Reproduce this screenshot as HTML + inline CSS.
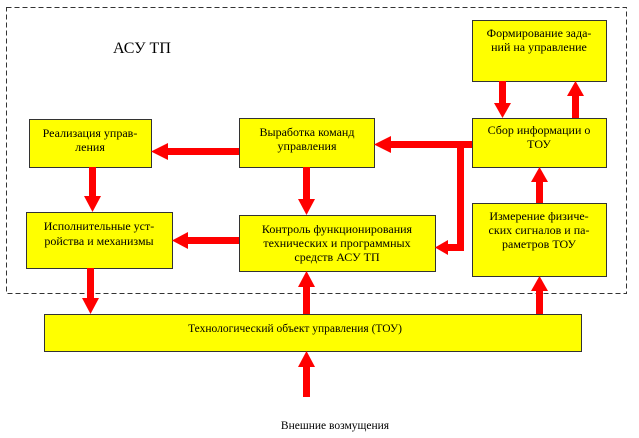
<!DOCTYPE html>
<html><head><meta charset="utf-8"><style>
body{margin:0;background:#fff}
svg{display:block}
text{font-family:"Liberation Serif",serif;font-size:12px;fill:#000}
.b{fill:#ffff00;stroke:#333;stroke-width:1}
.r{fill:#ff0000}
</style></head><body>
<svg width="639" height="438" viewBox="0 0 639 438">
<rect x="6.5" y="7.5" width="620" height="286" fill="none" stroke="#333" stroke-dasharray="5,3"/>
<text x="113" y="53" style="font-size:16px">АСУ ТП</text>
<rect class="b" x="29.5" y="119.5" width="122" height="48"/>
<rect class="b" x="26.5" y="212.5" width="146" height="56"/>
<rect class="b" x="239.5" y="118.5" width="135" height="49"/>
<rect class="b" x="239.5" y="215.5" width="196" height="56"/>
<rect class="b" x="472.5" y="20.5" width="134" height="61"/>
<rect class="b" x="472.5" y="118.5" width="134" height="49"/>
<rect class="b" x="472.5" y="203.5" width="134" height="73"/>
<rect class="b" x="44.5" y="314.5" width="537" height="37"/>
<g text-anchor="middle">
<text x="90" y="137">Реализация управ-</text><text x="90" y="151">ления</text>
<text x="99" y="230">Исполнительные уст-</text><text x="99" y="245">ройства и механизмы</text>
<text x="307" y="136">Выработка команд</text><text x="307" y="150">управления</text>
<text x="337" y="233">Контроль функционирования</text><text x="337" y="247">технических и программных</text><text x="337" y="261">средств АСУ ТП</text>
<text x="539" y="37">Формирование зада-</text><text x="539" y="51">ний на управление</text>
<text x="539" y="134">Сбор информации о</text><text x="539" y="148">ТОУ</text>
<text x="539" y="220">Измерение физиче-</text><text x="539" y="234">ских сигналов и па-</text><text x="539" y="248">раметров ТОУ</text>
<text x="295" y="332" style="font-size:11.5px">Технологический объект управления (ТОУ)</text>
<text x="335" y="429" style="font-size:11.5px">Внешние возмущения</text>
</g>
<g class="r">
<rect x="166" y="148" width="73" height="7"/><polygon points="151,151.5 168,143 168,160"/>
<rect x="89" y="167" width="7" height="30"/><polygon points="92.5,212 84,196 101,196"/>
<rect x="303" y="167" width="7" height="34"/><polygon points="306.5,215 298,199 315,199"/>
<rect x="186" y="237" width="53" height="7"/><polygon points="172,240.5 188,232 188,249"/>
<rect x="388" y="141" width="84" height="7"/><polygon points="374,144.5 391,136 391,153"/>
<rect x="457" y="144" width="7" height="107"/><rect x="446" y="244" width="18" height="7"/><polygon points="435,247.5 448,240 448,255"/>
<rect x="499" y="81" width="7" height="24"/><polygon points="502.5,118 494,103 511,103"/>
<rect x="572" y="94" width="7" height="24"/><polygon points="575.5,81 567,96 584,96"/>
<rect x="536" y="180" width="7" height="23"/><polygon points="539.5,167 531,182 548,182"/>
<rect x="536" y="289" width="7" height="25"/><polygon points="539.5,276 531,291 548,291"/>
<rect x="87" y="268" width="7" height="32"/><polygon points="90.5,314 82,298 99,298"/>
<rect x="303" y="285" width="7" height="29"/><polygon points="306.5,271 298,287 315,287"/>
<rect x="303" y="365" width="7" height="32"/><polygon points="306.5,351 298,367 315,367"/>
</g>
</svg>
</body></html>
